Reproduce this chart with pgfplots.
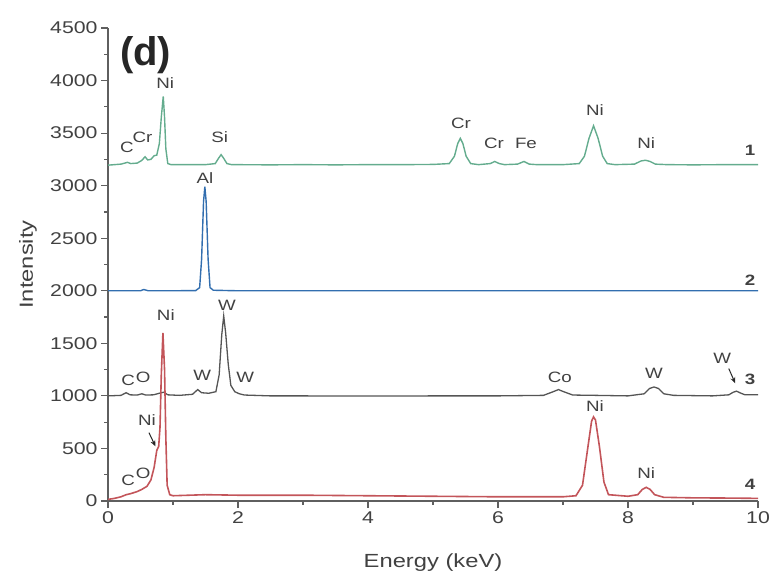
\documentclass[border=0pt]{standalone}
\usepackage{pgfplots}
\pgfplotsset{compat=1.18}
\usepackage{fontspec}
\setmainfont{Liberation Sans}
\usetikzlibrary{arrows.meta}
\definecolor{sgreen}{RGB}{100,172,142}
\definecolor{sblue}{RGB}{50,110,175}
\definecolor{sgray}{RGB}{85,85,85}
\definecolor{sred}{RGB}{195,85,90}
\definecolor{axgray}{RGB}{95,95,95}
\definecolor{txtgray}{RGB}{65,65,65}
\newcommand{\sx}[1]{\scalebox{1.25}[1]{#1}}
\newcommand{\pk}[1]{\fontsize{15}{17}\selectfont\sx{#1}}
\begin{document}
\begin{tikzpicture}
\useasboundingbox (0,0) rectangle (769pt,577pt);
\begin{axis}[
  at={(108pt,76pt)}, anchor=south west,
  scale only axis, width=650pt, height=473pt,
  xmin=0, xmax=10, ymin=0, ymax=4500,
  axis x line*=bottom, axis y line*=left,
  xtick={0,2,4,6,8,10}, minor xtick={1,3,5,7,9},
  ytick={0,500,1000,1500,2000,2500,3000,3500,4000,4500},
  minor ytick={250,750,1250,1750,2250,2750,3250,3750,4250},
  tick align=outside, major tick length=7pt, minor tick length=4pt,
  tick style={line width=1.2pt, color=axgray},
  axis line style={line width=1.5pt, color=axgray},
  /pgf/number format/assume math mode=true,
  /pgf/number format/1000 sep={},
  xticklabel={\sx{\pgfmathprintnumber{\tick}}},
  yticklabel={\sx{\pgfmathprintnumber{\tick}}},
  ticklabel style={font=\fontsize{17}{19}\selectfont, text=txtgray},
  xlabel={\sx{Energy (keV)}}, ylabel={\sx{Intensity}},
  label style={font=\fontsize{19}{21}\selectfont, text=txtgray},
  xlabel style={at={(axis description cs:0.5,-0.13)}, anchor=center},
  ylabel style={at={(axis description cs:-0.123,0.5)}, anchor=center},
  clip=false,
]
% spectrum 1
\addplot[sgreen, line width=1.4pt] coordinates {
(0,3195) (0.1,3200) (0.2,3205) (0.26,3215) (0.3,3222) (0.35,3210) (0.45,3215) (0.52,3240) (0.57,3275) (0.61,3245) (0.66,3250) (0.71,3285) (0.75,3290) (0.79,3400) (0.82,3650) (0.85,3850) (0.87,3650) (0.89,3350) (0.92,3210) (0.97,3200) (1.2,3200) (1.5,3200) (1.65,3210) (1.7,3260) (1.74,3295) (1.78,3260) (1.83,3210) (1.9,3200) (2.5,3198) (3,3200) (3.5,3198) (4,3200) (4.5,3200) (5.0,3202) (5.25,3210) (5.33,3280) (5.38,3400) (5.42,3450) (5.46,3400) (5.51,3280) (5.58,3210) (5.7,3200) (5.88,3210) (5.95,3230) (6.02,3210) (6.1,3200) (6.3,3205) (6.4,3230) (6.48,3205) (6.6,3200) (7.0,3200) (7.25,3210) (7.33,3280) (7.40,3450) (7.47,3570) (7.54,3450) (7.61,3280) (7.68,3210) (7.8,3200) (8.1,3205) (8.2,3235) (8.27,3242) (8.34,3230) (8.42,3205) (8.6,3200) (9,3198) (9.5,3200) (10,3200)
};
% spectrum 2
\addplot[sblue, line width=1.4pt] coordinates {
(0,2000) (0.5,2000) (0.55,2012) (0.62,2000) (1.0,2000) (1.35,2002) (1.41,2030) (1.44,2300) (1.47,2850) (1.49,2990) (1.51,2850) (1.54,2300) (1.57,2030) (1.62,2005) (2.0,2000) (3,2000) (4,2000) (5,2000) (6,2000) (7,2000) (8,2000) (9,2000) (10,2000)
};
% spectrum 3
\addplot[sgray, line width=1.3pt] coordinates {
(0,1000) (0.2,1005) (0.28,1030) (0.34,1010) (0.45,1008) (0.52,1020) (0.58,1008) (0.7,1010) (0.82,1030) (0.86,1035) (0.92,1010) (1.1,1005) (1.3,1015) (1.38,1060) (1.44,1030) (1.55,1025) (1.66,1040) (1.71,1200) (1.75,1580) (1.78,1760) (1.81,1600) (1.85,1300) (1.89,1100) (1.95,1040) (2.02,1020) (2.1,1008) (2.5,1000) (3,1000) (4,998) (5,1000) (6,1000) (6.7,1005) (6.85,1040) (6.93,1060) (7.01,1040) (7.15,1008) (7.5,1005) (8.0,1000) (8.25,1020) (8.33,1070) (8.40,1085) (8.47,1070) (8.55,1020) (8.7,1005) (9.3,1000) (9.55,1010) (9.62,1035) (9.67,1045) (9.72,1030) (9.8,1010) (10,1010)
};
% spectrum 4
\addplot[sred, line width=1.6pt] coordinates {
(0,15) (0.1,25) (0.2,40) (0.28,60) (0.35,70) (0.45,90) (0.52,110) (0.6,140) (0.66,200) (0.71,320) (0.75,480) (0.78,520) (0.80,700) (0.82,1200) (0.845,1600) (0.87,1250) (0.89,600) (0.91,150) (0.95,60) (1.0,50) (1.5,60) (2,55) (3,55) (4,50) (5,45) (6,40) (7,40) (7.2,50) (7.3,150) (7.38,500) (7.44,760) (7.47,800) (7.50,770) (7.56,520) (7.63,180) (7.7,60) (8.0,45) (8.15,60) (8.22,110) (8.28,130) (8.34,110) (8.41,60) (8.55,35) (9,30) (9.5,28) (10,25)
};
% labels
\begin{scope}[every node/.style={text=txtgray, inner sep=0pt}]
\node[font=\fontsize{40}{44}\selectfont\bfseries, text=black!85] at (axis cs:0.58,4240) {(d)};
% 1
\node at (axis cs:0.29,3365) {\pk{C}};
\node at (axis cs:0.53,3460) {\pk{Cr}};
\node at (axis cs:0.88,3973) {\pk{Ni}};
\node at (axis cs:1.72,3460) {\pk{Si}};
\node at (axis cs:5.43,3593) {\pk{Cr}};
\node at (axis cs:5.94,3403) {\pk{Cr}};
\node at (axis cs:6.43,3403) {\pk{Fe}};
\node at (axis cs:7.49,3717) {\pk{Ni}};
\node at (axis cs:8.28,3403) {\pk{Ni}};
\node[font=\bfseries] at (axis cs:9.88,3336) {\pk{1}};
% 2
\node at (axis cs:1.49,3070) {\pk{Al}};
\node[font=\bfseries] at (axis cs:9.88,2100) {\pk{2}};
% 3
\node at (axis cs:0.31,1150) {\pk{C}};
\node at (axis cs:0.54,1178) {\pk{O}};
\node at (axis cs:0.89,1768) {\pk{Ni}};
\node at (axis cs:1.83,1863) {\pk{W}};
\node at (axis cs:1.45,1198) {\pk{W}};
\node at (axis cs:2.11,1180) {\pk{W}};
\node at (axis cs:6.95,1180) {\pk{Co}};
\node at (axis cs:8.40,1217) {\pk{W}};
\node at (axis cs:9.45,1360) {\pk{W}};
\node[font=\bfseries] at (axis cs:9.88,1160) {\pk{3}};
% 4
\node at (axis cs:0.31,200) {\pk{C}};
\node at (axis cs:0.54,266) {\pk{O}};
\node at (axis cs:0.60,770) {\pk{Ni}};
\node at (axis cs:7.49,903) {\pk{Ni}};
\node at (axis cs:8.28,266) {\pk{Ni}};
\node[font=\bfseries] at (axis cs:9.88,160) {\pk{4}};
\end{scope}
\draw[-{Stealth[length=6pt,width=5pt]}, line width=1pt, black!85] (axis cs:9.55,1260) -- (axis cs:9.65,1120);
\draw[-{Stealth[length=6pt,width=5pt]}, line width=1pt, black!85] (axis cs:0.63,650) -- (axis cs:0.73,520);
\end{axis}
\end{tikzpicture}
\end{document}
